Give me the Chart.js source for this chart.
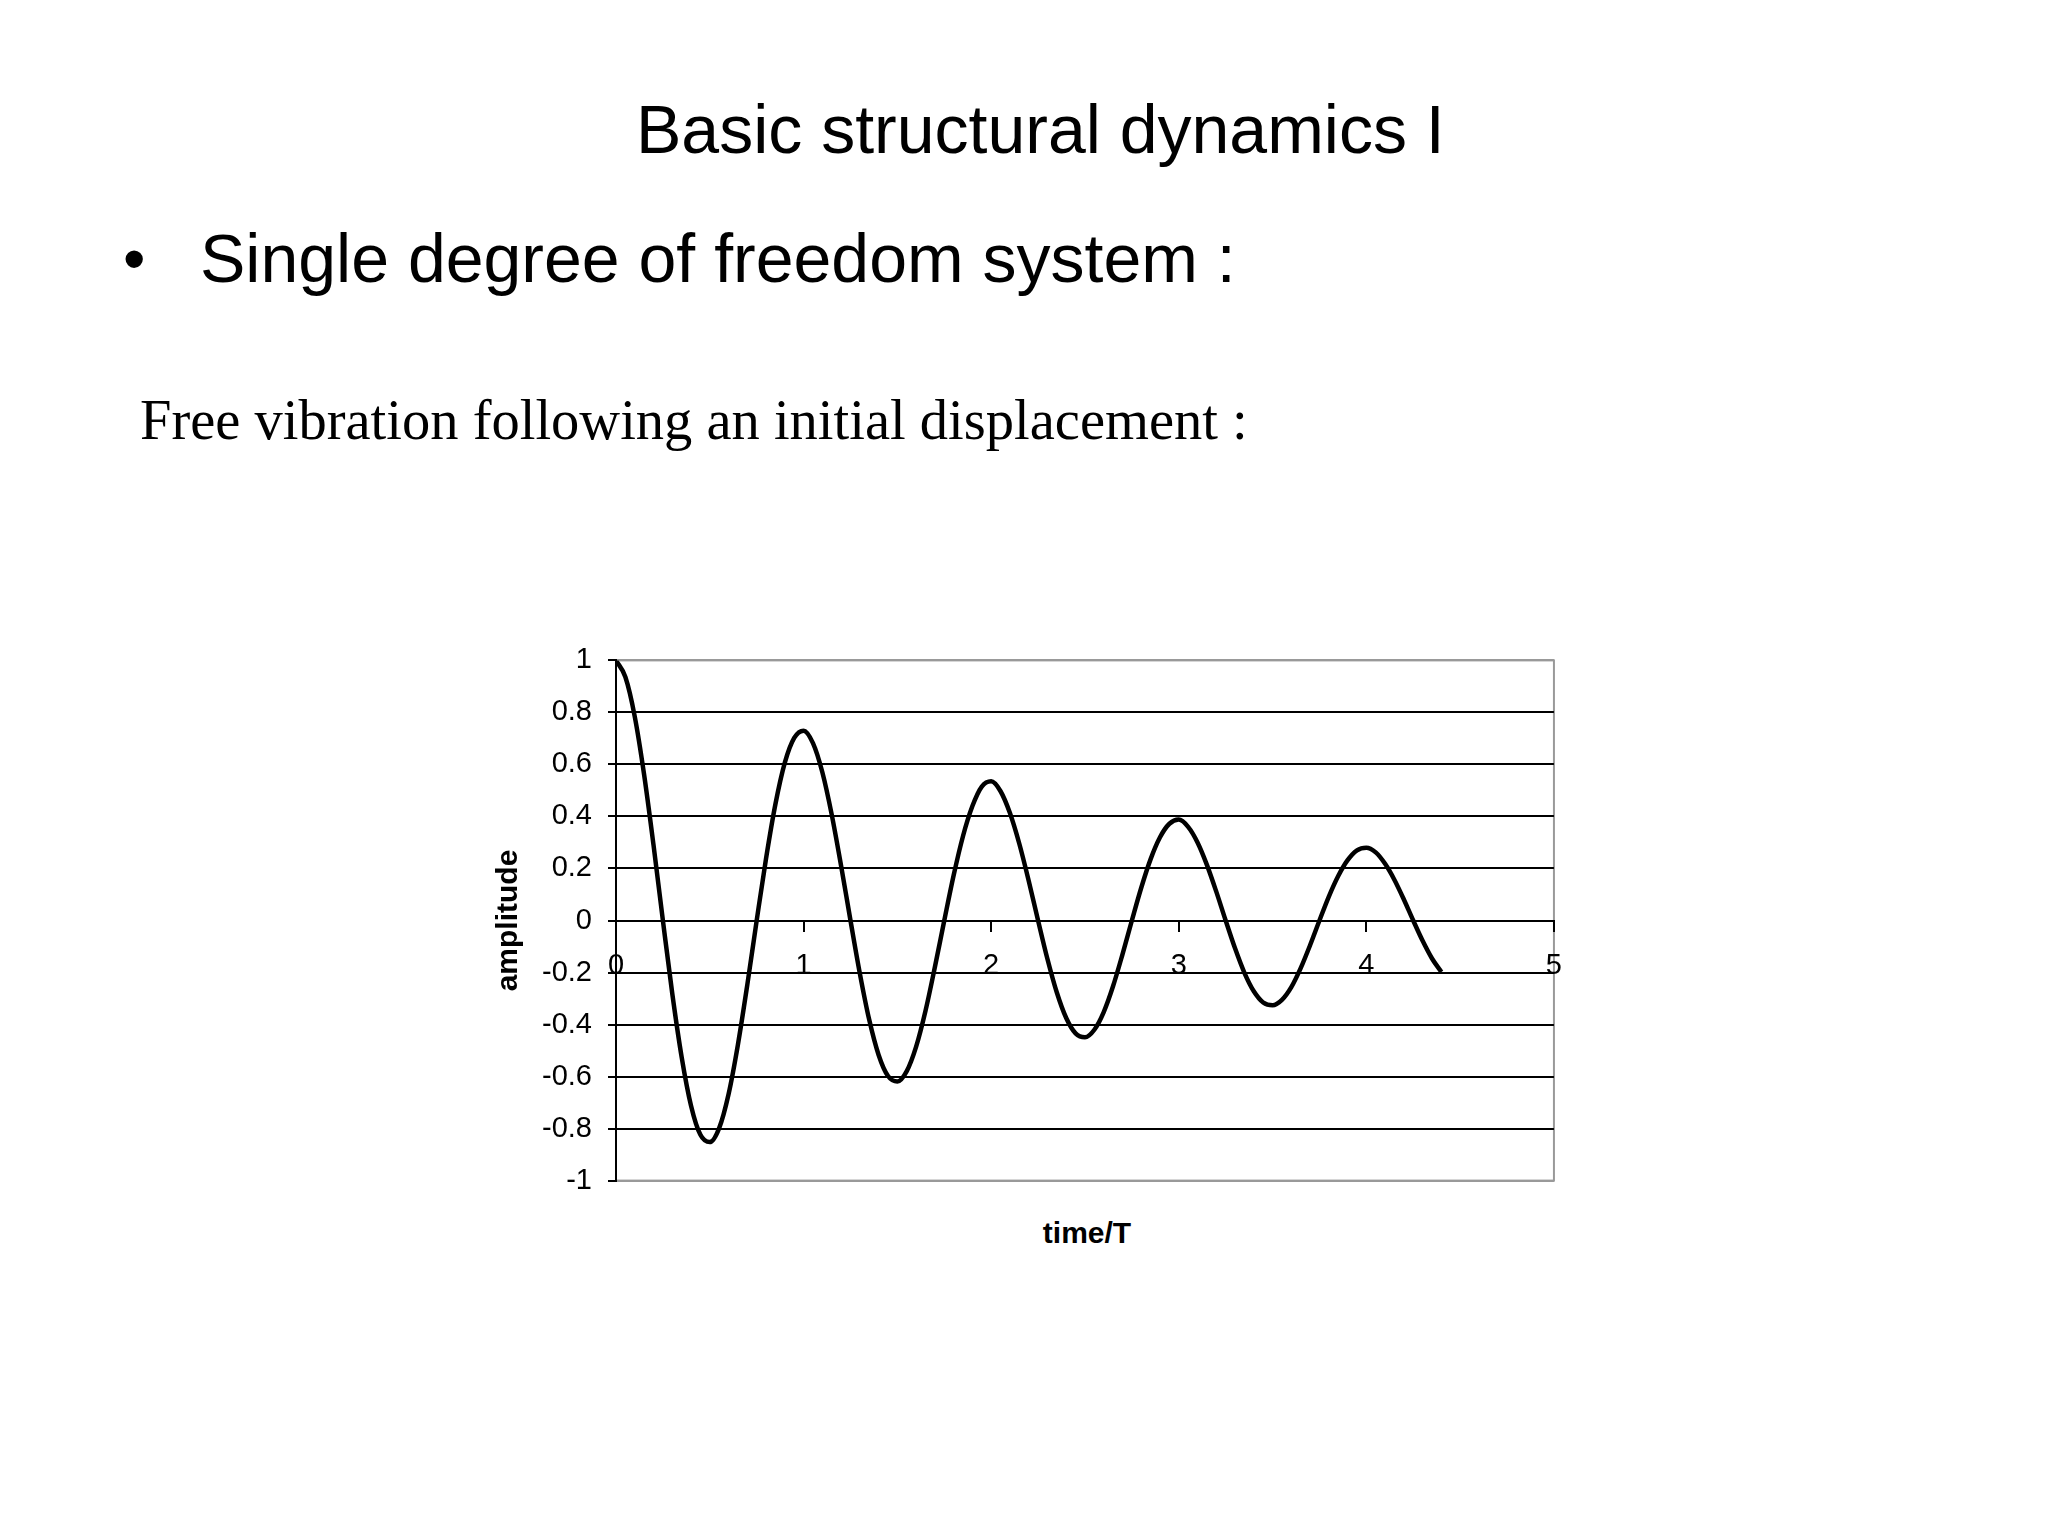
<!DOCTYPE html>
<html>
<head>
<meta charset="utf-8">
<script src="https://cdn.jsdelivr.net/npm/chart.js@4/dist/chart.umd.min.js"></script>
<style>
  html, body { margin: 0; padding: 0; background: #fff; }
  body { width: 2048px; height: 1536px; position: relative; overflow: hidden; }
  .txt { position: absolute; white-space: nowrap; line-height: 1; color: #000; }
  #title { left: 636px; top: 90px; font: 68px 'Liberation Sans', Arial, sans-serif; }
  #bullet { left: 123px; top: 222px; font: 64px 'Liberation Sans', Arial, sans-serif; }
  #sub { left: 200px; top: 219px; font: 68px 'Liberation Sans', Arial, sans-serif; }
  #caption { left: 140px; top: 388px; font: 56.5px 'Liberation Serif', 'Times New Roman', serif; }
  #xtitle { left: 1087px; top: 1216px; transform: translateX(-50%); font: bold 30px 'Liberation Sans', Arial, sans-serif; }
  #chart { position: absolute; left: 460px; top: 627px; }
</style>
</head>
<body>
<div class="txt" id="title">Basic structural dynamics I</div>
<div class="txt" id="bullet">•</div>
<div class="txt" id="sub">Single degree of freedom system :</div>
<div class="txt" id="caption">Free vibration following an initial displacement :</div>
<canvas id="chart" width="1120" height="587"></canvas>
<div class="txt" id="xtitle">time/T</div>
<script>
'use strict';
//values
let timeValues = [
  0, 0.05, 0.1, 0.15, 0.2, 0.25, 0.3, 0.35, 0.4, 0.45,
  0.5, 0.55, 0.6, 0.65, 0.7, 0.75, 0.8, 0.85, 0.9, 0.95,
  1, 1.05, 1.1, 1.15, 1.2, 1.25, 1.3, 1.35, 1.4, 1.45,
  1.5, 1.55, 1.6, 1.65, 1.7, 1.75, 1.8, 1.85, 1.9, 1.95,
  2, 2.05, 2.1, 2.15, 2.2, 2.25, 2.3, 2.35, 2.4, 2.45,
  2.5, 2.55, 2.6, 2.65, 2.7, 2.75, 2.8, 2.85, 2.9, 2.95,
  3, 3.05, 3.1, 3.15, 3.2, 3.25, 3.3, 3.35, 3.4, 3.45,
  3.5, 3.55, 3.6, 3.65, 3.7, 3.75, 3.8, 3.85, 3.9, 3.95,
  4, 4.05, 4.1, 4.15, 4.2, 4.25, 4.3, 4.35, 4.4
];
let amplitudeValues = [
  1.000, 0.936, 0.784, 0.560, 0.290, 0.000, -0.281, -0.525, -0.712, -0.824,
  -0.852, -0.798, -0.668, -0.477, -0.247, 0.000, 0.239, 0.448, 0.607, 0.702,
  0.730, 0.682, 0.570, 0.407, 0.210, 0.000, -0.204, -0.382, -0.517, -0.598,
  -0.619, -0.579, -0.485, -0.347, -0.179, 0.000, 0.174, 0.325, 0.440, 0.515,
  0.535, 0.497, 0.413, 0.295, 0.153, 0.000, -0.148, -0.277, -0.375, -0.434,
  -0.449, -0.420, -0.352, -0.252, -0.130, 0.000, 0.126, 0.236, 0.320, 0.372,
  0.388, 0.360, 0.300, 0.214, 0.111, 0.000, -0.107, -0.201, -0.272, -0.315,
  -0.326, -0.305, -0.256, -0.183, -0.095, 0.000, 0.092, 0.171, 0.232, 0.270,
  0.280, 0.262, 0.218, 0.156, 0.081, 0.000, -0.078, -0.146, -0.198
];
let xTickValues = [0, 1, 2, 3, 4, 5];
let yTickValues = [-1, -0.8, -0.6, -0.4, -0.2, 0, 0.2, 0.4, 0.6, 0.8, 1];

//build point list for the line
let points = [];
for (let i = 0; i < timeValues.length; i++){
  points.push({x: timeValues[i], y: amplitudeValues[i]});
}

let tickFont = {family: "'Liberation Sans', Arial, sans-serif", size: 29};

//grey frame round the plot area
let frameBorder = {
  id: 'frameBorder',
  beforeDraw(chart){
    let a = chart.chartArea;
    let ctx = chart.ctx;
    ctx.save();
    ctx.strokeStyle = '#999';
    ctx.lineWidth = 2;
    ctx.strokeRect(a.left, a.top, a.right - a.left, a.bottom - a.top);
    ctx.restore();
  }
};

let ctx = document.getElementById('chart').getContext('2d');
new Chart(ctx, {
  type: 'line',
  data: {
    datasets: [{
      data: points,
      borderColor: '#000',
      borderWidth: 4.5,
      pointRadius: 0,
      cubicInterpolationMode: 'monotone',
      fill: false
    }]
  },
  options: {
    responsive: false,
    animation: false,
    devicePixelRatio: 1,
    layout: {padding: {top: 20, right: 21, bottom: 0, left: 0}},
    plugins: {legend: {display: false}, tooltip: {enabled: false}},
    scales: {
      x: {
        type: 'linear',
        position: {y: 0},
        min: 0,
        max: 5,
        afterBuildTicks: scale => { scale.ticks = xTickValues.map(v => ({value: v})); },
        afterFit: scale => { scale.height = 22; },
        ticks: {font: tickFont, color: '#000', padding: 18, maxRotation: 0, callback: v => String(v)},
        grid: {drawOnChartArea: false, drawTicks: true, tickLength: 10, color: '#000', lineWidth: 2},
        border: {color: '#000', width: 2}
      },
      y: {
        min: -1,
        max: 1,
        afterBuildTicks: scale => { scale.ticks = yTickValues.map(v => ({value: v})); },
        afterFit: scale => { scale.width = 156; },
        ticks: {font: tickFont, color: '#000', padding: 16, callback: v => String(v)},
        grid: {
          color: c => (c.tick && Math.abs(c.tick.value) === 1) ? '#999' : '#000',
          tickColor: '#000',
          lineWidth: 2,
          tickLength: 8
        },
        border: {color: '#000', width: 2},
        title: {
          display: true,
          text: 'amplitude',
          color: '#000',
          font: {family: "'Liberation Sans', Arial, sans-serif", size: 30, weight: 'bold'},
          padding: {top: 31, bottom: 0}
        }
      }
    }
  },
  plugins: [frameBorder]
});
</script>
</body>
</html>
